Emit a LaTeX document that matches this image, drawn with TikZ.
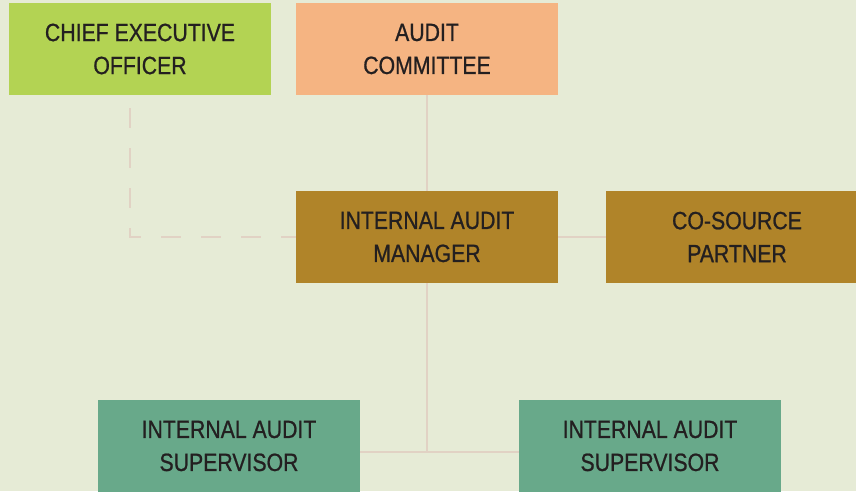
\documentclass[tikz,border=0pt]{standalone}
\usepackage{fontspec}
\setmainfont{Liberation Sans}[FakeStretch=0.85, FakeBold=0.8]
\definecolor{bgc}{HTML}{E6EBD6}
\definecolor{ceoc}{HTML}{B3D353}
\definecolor{acc}{HTML}{F5B482}
\definecolor{mgrc}{HTML}{B08429}
\definecolor{supc}{HTML}{68A98A}
\definecolor{linec}{HTML}{E1D2C4}
\definecolor{txtc}{HTML}{231F20}
\tikzset{
  box/.style={minimum width=262pt, minimum height=92pt, inner sep=0pt, align=center,
    text=txtc, font=\fontsize{25}{33}\selectfont},
  conn/.style={draw=linec, line width=2pt},
  dconn/.style={conn, dash pattern=on 20pt off 20pt}
}
\begin{document}
\begin{tikzpicture}[x=1pt,y=-1pt]
\fill[bgc] (0,0) rectangle (856,491);
\useasboundingbox (0,0) rectangle (856,491);
\node[box, fill=ceoc] (ceo) at (140,49) {CHIEF EXECUTIVE\\OFFICER};
\node[box, fill=acc] (ac) at (427,49) {AUDIT\\COMMITTEE};
\node[box, fill=mgrc] (mgr) at (427,237) {INTERNAL AUDIT\\MANAGER};
\node[box, fill=mgrc] (cos) at (737,237) {CO-SOURCE\\PARTNER};
\node[box, fill=supc] (sup1) at (229,446) {INTERNAL AUDIT\\SUPERVISOR};
\node[box, fill=supc] (sup2) at (650,446) {INTERNAL AUDIT\\SUPERVISOR};
\coordinate (j) at (427,452);
\coordinate (d1) at (130,108);
\draw[conn] (ac.south) -- (mgr.north);
\draw[conn] (mgr.east) -- (cos.west);
\draw[conn] (mgr.south) -- (j);
\draw[conn] (sup1.east |- j) -- (sup2.west |- j);
\draw[dconn] (d1) |- (mgr.west);
\end{tikzpicture}
\end{document}
